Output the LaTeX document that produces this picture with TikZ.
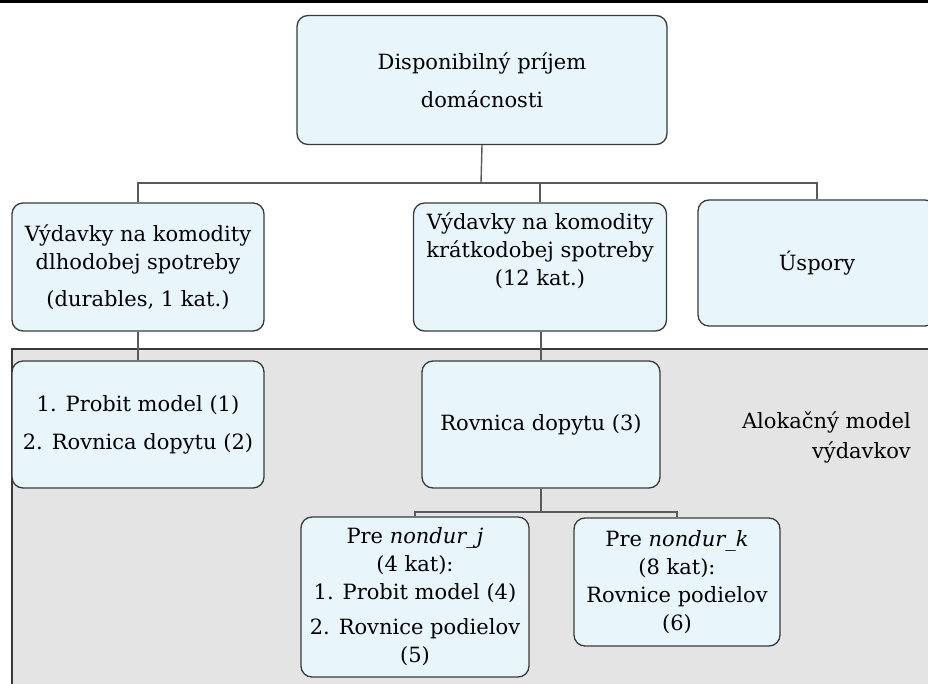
\documentclass[tikz,border=0pt]{standalone}
\usepackage{fontspec}
\setmainfont{DejaVu Serif}
\usetikzlibrary{positioning}
\definecolor{boxfill}{RGB}{232,246,252}
\definecolor{boxline}{RGB}{58,58,58}
\definecolor{conncol}{RGB}{90,90,90}
\definecolor{bggray}{RGB}{228,228,228}
\tikzset{
  boxnode/.style={draw=boxline, line width=1.3pt, fill=boxfill, rounded corners=11pt,
    align=center, inner sep=0pt, font=\fontsize{21}{28}\selectfont},
  conn/.style={draw=conncol, line width=1.4pt},
}
\begin{document}
\begin{tikzpicture}[x=1pt,y=-1pt]
\useasboundingbox (0,0) rectangle (928,684);
\begin{scope}
\clip (0,0) rectangle (928,684);
% top black bar
\fill[black] (0,0) rectangle (928,3);
% gray background region
\fill[bggray] (12,349) rectangle (940,700);
\draw[boxline, line width=1.4pt] (12,700) -- (12,349) -- (940,349);

% nodes
\node[boxnode, minimum width=370pt, minimum height=129pt] (top) at (482,80)
  {Disponibilný príjem\\[10pt]domácnosti};
\node[boxnode, minimum width=252pt, minimum height=128pt] (left1) at (138,267)
  {Výdavky na komodity\\dlhodobej spotreby\\[9pt](durables, 1 kat.)};
\node[boxnode, minimum width=253pt, minimum height=128pt] (mid1) at (540,267)
  {Výdavky na komodity\\krátkodobej spotreby\\(12 kat.)\\ \strut};
\node[boxnode, minimum width=238pt, minimum height=126pt] (usp) at (817,263)
  {Úspory};
\node[boxnode, minimum width=252pt, minimum height=127pt] (left2) at (138,424.5)
  {1. Probit model (1)\\[10pt]2. Rovnica dopytu (2)};
\node[boxnode, minimum width=238pt, minimum height=127pt] (mid2) at (541,424.5)
  {Rovnica dopytu (3)};
\node[boxnode, minimum width=228pt, minimum height=160pt] (nj) at (415,597)
  {Pre \textit{nondur\_j}\\(4 kat):\\1. Probit model (4)\\[7pt]2. Rovnice podielov\\(5)};
\node[boxnode, minimum width=206pt, minimum height=128pt] (nk) at (677,582)
  {Pre \textit{nondur\_k}\\(8 kat):\\Rovnice podielov\\(6)};
\node[align=right, anchor=east, inner sep=0pt, font=\fontsize{21}{30}\selectfont] (alok) at (911,437)
  {Alokačný model\\výdavkov};

% connectors
\coordinate (j1) at (481,183);
\draw[conn] (top.south) -- (j1);
\draw[conn] (j1) -| (left1.north);
\draw[conn] (j1) -| (mid1.north);
\draw[conn] (j1) -| (usp.north);
\draw[conn] (left1.south) -- (left2.north);
\draw[conn] (mid2.north) -- (mid2.north |- mid1.south);
\coordinate (j2) at (541,512);
\draw[conn] (mid2.south) -- (j2);
\draw[conn] (j2) -| (nj.north);
\draw[conn] (j2) -| (nk.north);
\end{scope}
\end{tikzpicture}
\end{document}
